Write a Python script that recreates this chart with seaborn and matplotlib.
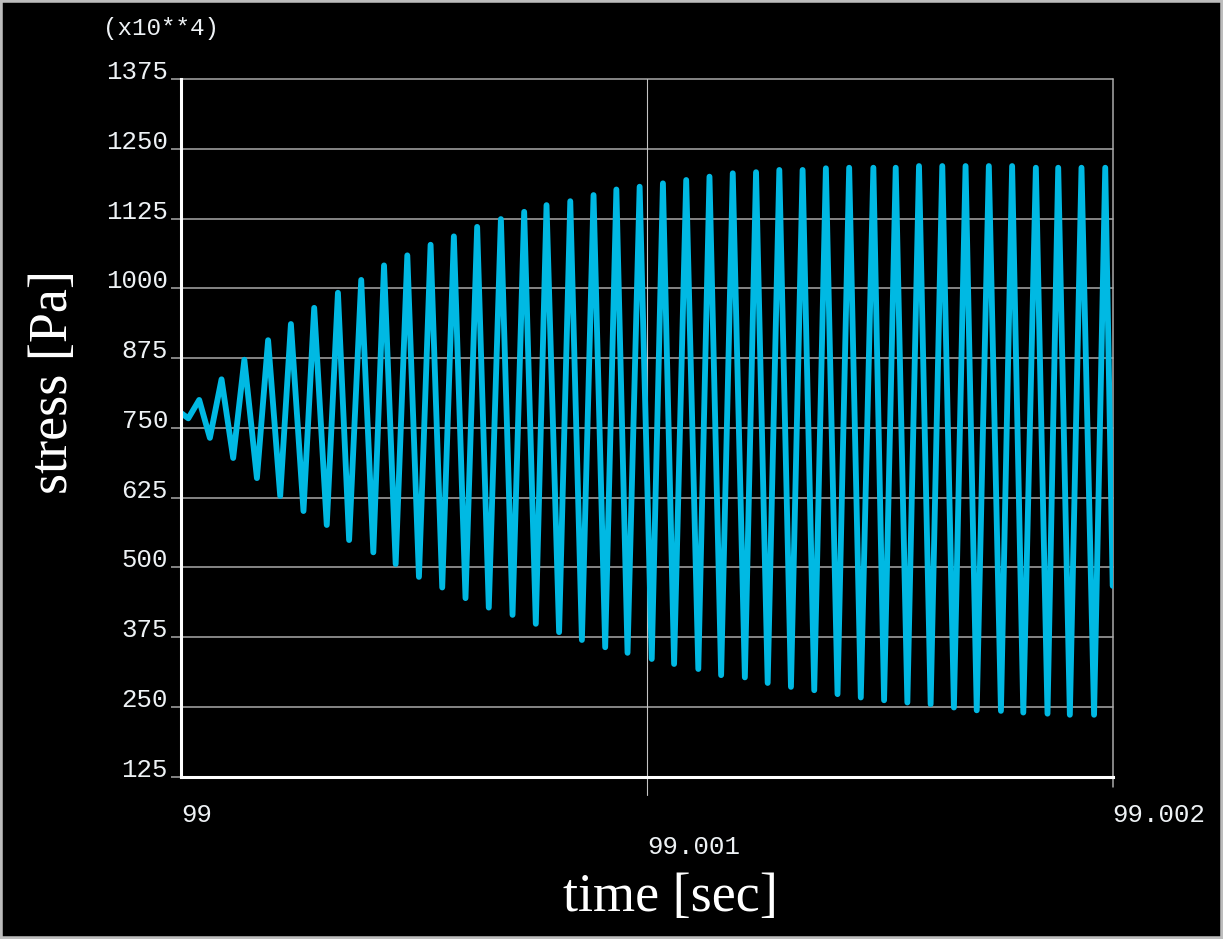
import numpy as np
import pandas as pd
import matplotlib
matplotlib.use("Agg")
import matplotlib.pyplot as plt
from matplotlib.patches import Rectangle
import seaborn as sns

# time in microseconds after t = 99 s, stress in units of 1e4 Pa
start_t = [0.0, 14.6]
start_s = [776, 767]

peak_t = [38, 86, 135, 186, 235, 285, 336, 386, 435, 485,
          535, 585, 635, 686, 736, 784, 835, 885, 934, 984,
          1034, 1084, 1134, 1184, 1234, 1284, 1334, 1384, 1434, 1486,
          1534, 1584, 1634, 1684, 1734, 1784, 1835, 1883, 1933, 1984]
peak_s = [800, 837, 872, 907, 936, 965, 992, 1015, 1041, 1059,
          1078, 1093, 1110, 1124, 1137, 1149, 1156, 1167, 1177, 1182,
          1188, 1194, 1200, 1206, 1208, 1212, 1212, 1215, 1216, 1216,
          1216, 1219, 1219, 1219, 1219, 1219, 1216, 1216, 1216, 1216]

trough_t = [61, 111, 162, 212, 262, 312, 360, 412, 460, 510,
            560, 610, 660, 711, 761, 811, 860, 910, 958, 1010,
            1058, 1110, 1159, 1210, 1259, 1309, 1359, 1409, 1459, 1509,
            1559, 1609, 1659, 1708, 1760, 1808, 1860, 1908, 1960]
trough_s = [732, 696, 660, 628, 601, 576, 549, 527, 506, 483,
            464, 445, 428, 415, 399, 384, 370, 357, 347, 336,
            327, 318, 307, 303, 293, 286, 280, 273, 267, 262,
            258, 255, 249, 244, 243, 240, 238, 236, 236]

end_t = [2000]
end_s = [467]

# put peaks and troughs in order
t_us = list(start_t)
stress = list(start_s)
for i in range(len(peak_t)):
    t_us.append(peak_t[i])
    stress.append(peak_s[i])
    if i < len(trough_t):
        t_us.append(trough_t[i])
        stress.append(trough_s[i])
t_us += end_t
stress += end_s

df = pd.DataFrame({"time": 99 + np.array(t_us) * 1e-6, "stress": stress})

yticks = [125, 250, 375, 500, 625, 750, 875, 1000, 1125, 1250, 1375]
xticks = [99.0, 99.001, 99.002]
xlabels = ["99", "99.001", "99.002"]

sns.set_theme(style="dark", rc={"axes.facecolor": "black", "figure.facecolor": "black"})
plt.rcParams["font.family"] = ["Liberation Mono", "DejaVu Sans Mono"]

grid_c = "#a9a9a9"
fig = plt.figure(figsize=(12.23, 9.39), dpi=100)
ax = fig.add_axes([0.1484, 0.1728, 0.7614, 0.7431])

sns.lineplot(data=df, x="time", y="stress", ax=ax, color="#00b9e3", lw=4.2)

ax.set_xlim(99.0, 99.002)
ax.set_ylim(125, 1375)
ax.set_yticks(yticks, [str(v) for v in yticks])
ax.set_xticks(xticks, xlabels)

ax.grid(False)
for y in yticks[1:]:
    ax.axhline(y, color=grid_c, lw=1.1, clip_on=False, zorder=0.5)
ax.axvline(99.001, ymin=-0.026, ymax=1, color="#c4c4c4", lw=0.8, clip_on=False, zorder=0.5)
ax.axvline(99.002, ymin=-0.015, ymax=1, color=grid_c, lw=1.1, clip_on=False, zorder=0.5)

for side in ["top", "right"]:
    ax.spines[side].set_visible(False)
for side in ["left", "bottom"]:
    ax.spines[side].set_color("white")
    ax.spines[side].set_linewidth(2.2)
    ax.spines[side].set_zorder(3)

ax.tick_params(axis="y", length=7, width=1.1, color=grid_c, pad=2.7,
               labelsize=18.5, labelcolor="#eef2f5", left=True)
ax.tick_params(axis="x", length=0, labelsize=18.5, labelcolor="#eef2f5")
for lbl in ax.get_yticklabels():
    lbl.set_va("baseline")
for lbl in ax.get_xticklabels():
    lbl.set_ha("left")
xt = ax.xaxis.get_major_ticks()
xt[0].set_pad(19)
xt[1].set_pad(42)
xt[2].set_pad(19)

ax.set_xlabel("time [sec]", fontsize=39, family="Liberation Serif", color="white")
ax.set_ylabel("stress [Pa]", fontsize=39, family="Liberation Serif", color="white")
ax.xaxis.set_label_coords(0.525, -0.174)
ax.xaxis.label.set_va("center")
ax.yaxis.set_label_coords(-0.137, 0.566)
ax.yaxis.label.set_va("center")

fig.text(0.084, 0.970, "(x10**4)", fontsize=17.5, color="#eef2f5", va="center")

fig.patches.append(Rectangle((0, 0), 1, 1, transform=fig.transFigure, fill=False,
                             edgecolor="#bdbdbd", lw=4))

fig.savefig("out.png", dpi=100, facecolor="black")
